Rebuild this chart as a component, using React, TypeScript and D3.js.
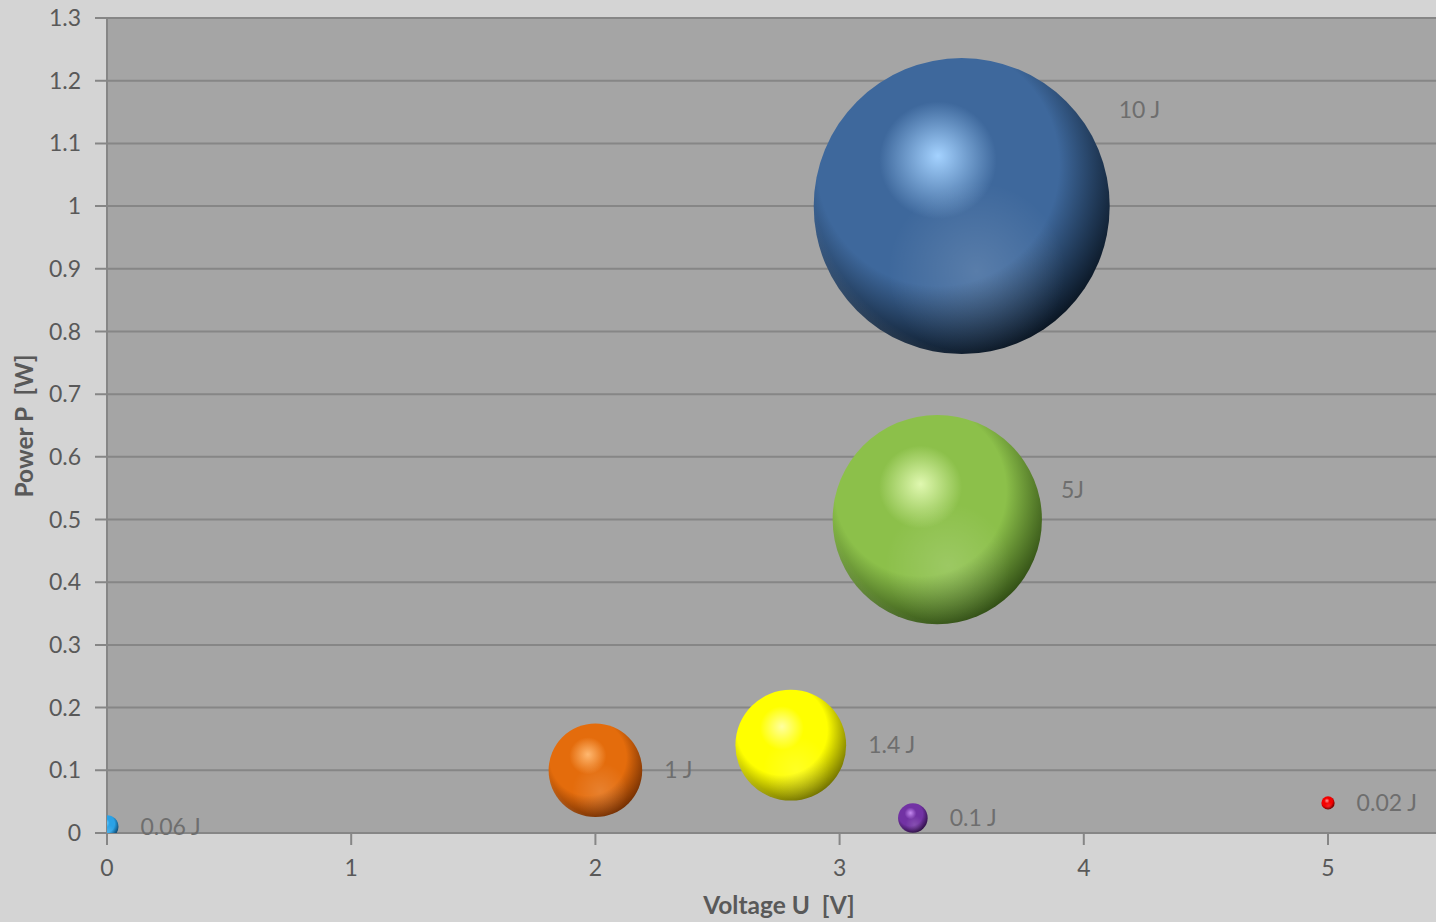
import React from "react";
import * as d3 from "d3";

// Energy bubbles: voltage (V) vs power (W), bubble area ∝ energy (J)
const labels = ["0.06 J", "1 J", "1.4 J", "0.1 J", "5J", "10 J", "0.02 J"];
const voltage = [0, 2, 2.8, 3.3, 3.4, 3.5, 5];
const power = [0.01, 0.1, 0.14, 0.024, 0.5, 1.0, 0.048];
const energy = [0.06, 1, 1.4, 0.1, 5, 10, 0.02];
const yTicks = [0, 0.1, 0.2, 0.3, 0.4, 0.5, 0.6, 0.7, 0.8, 0.9, 1, 1.1, 1.2, 1.3];
const xTicks = [0, 1, 2, 3, 4, 5];

// sphere shading: highlight, base, shadow
const palette = [
  { hi: "#8fd8ff", base: "#2aa2e6", dark: "#0a3a5e" },
  { hi: "#ffb870", base: "#e46c0c", dark: "#6e2c02" },
  { hi: "#ffffa0", base: "#ffff00", dark: "#6a6a00" },
  { hi: "#c58af0", base: "#7232a4", dark: "#2a0d40" },
  { hi: "#e0f8b0", base: "#8cc04a", dark: "#2c4812" },
  { hi: "#a4d2ff", base: "#3e689c", dark: "#07111c" },
  { hi: "#ff9a9a", base: "#f40000", dark: "#5a0000" },
];

// manual nudges for the two large labels
const labelNudge: Record<string, [number, number]> = {
  "10 J": [-13, -96],
  "5J": [-3, -30],
};

const W = 1436;
const H = 922;
const left = 107;
const top = 18;
const bottom = 833;

const font = "Lato, 'Open Sans', 'Liberation Sans', sans-serif";

export default function App() {
  const x = d3.scaleLinear().domain([0, 5]).range([left, 1328]);
  const y = d3.scaleLinear().domain([0, 1.3]).range([bottom, top]);
  const r = d3.scaleSqrt().domain([0, 10]).range([0, 148]);

  return (
    <svg
      width={W}
      height={H}
      style={{ position: "absolute", left: 0, top: 0, display: "block" }}
      fontFamily={font}
    >
      <defs>
        <clipPath id="plotClip">
          <rect x={left} y={top} width={W - left} height={bottom - top} />
        </clipPath>
        {palette.map((c, i) => (
          <React.Fragment key={i}>
            <radialGradient id={`sph${i}`} cx="0.42" cy="0.38" r="0.66" fx="0.42" fy="0.33">
              <stop offset="0" stopColor={c.hi} />
              <stop offset="0.3" stopColor={c.base} />
              <stop offset="0.62" stopColor={c.base} />
              <stop offset="1" stopColor={c.dark} />
            </radialGradient>
            <radialGradient id={`refl${i}`} cx="0.55" cy="0.72" r="0.3">
              <stop offset="0" stopColor="#ffffff" stopOpacity="0.14" />
              <stop offset="1" stopColor="#ffffff" stopOpacity="0" />
            </radialGradient>
          </React.Fragment>
        ))}
        <radialGradient id="rim" cx="0.6" cy="0.4" r="0.7">
          <stop offset="0.86" stopColor="#ffffff" stopOpacity="0" />
          <stop offset="1" stopColor="#ffffff" stopOpacity="0.18" />
        </radialGradient>
      </defs>

      <rect x={0} y={0} width={W} height={H} fill="#d4d4d4" />
      <rect x={left} y={top} width={W - left} height={bottom - top} fill="#a5a5a5" />

      {/* horizontal gridlines and y ticks */}
      {yTicks.map((t) => (
        <g key={t}>
          <line x1={95} x2={W} y1={y(t)} y2={y(t)} stroke="#868686" strokeWidth={2} />
          <text
            x={81}
            y={y(t)}
            dy="0.35em"
            textAnchor="end"
            fontSize={23}
            fill="#595959"
          >
            {t}
          </text>
        </g>
      ))}

      {/* axes */}
      <line x1={left} x2={left} y1={top} y2={bottom + 12} stroke="#868686" strokeWidth={2} />
      {xTicks.map((t) => (
        <g key={t}>
          <line x1={x(t)} x2={x(t)} y1={bottom} y2={bottom + 12} stroke="#868686" strokeWidth={2} />
          <text x={x(t)} y={876} textAnchor="middle" fontSize={23} fill="#595959">
            {t}
          </text>
        </g>
      ))}

      {/* bubbles */}
      <g clipPath="url(#plotClip)">
        {labels.map((l, i) => {
          const cx = x(voltage[i]);
          const cy = y(power[i]);
          const rr = r(energy[i]);
          return (
            <g key={l}>
              <circle cx={cx} cy={cy} r={rr} fill={`url(#sph${i})`} />
              <circle cx={cx} cy={cy} r={rr} fill={`url(#refl${i})`} />
              <circle cx={cx} cy={cy} r={rr} fill="url(#rim)" />
            </g>
          );
        })}
      </g>

      {/* data labels */}
      {labels.map((l, i) => {
        const [dx, dy] = labelNudge[l] || [0, 0];
        const lx = x(voltage[i]) + r(energy[i]) + 22 + dx;
        const ly = y(power[i]) + dy;
        return (
          <text key={l} x={lx} y={ly} dy="0.35em" fontSize={23} fill="#6e6e6e">
            {l}
          </text>
        );
      })}

      {/* axis titles */}
      <text
        x={779}
        y={914}
        textAnchor="middle"
        fontSize={24.5}
        fontWeight="bold"
        fill="#595959"
        style={{ whiteSpace: "pre" }}
      >
        {"Voltage U  [V]"}
      </text>
      <text
        transform={`translate(33, 426) rotate(-90)`}
        textAnchor="middle"
        fontSize={24.5}
        fontWeight="bold"
        fill="#595959"
        style={{ whiteSpace: "pre" }}
      >
        {"Power P  [W]"}
      </text>
    </svg>
  );
}
